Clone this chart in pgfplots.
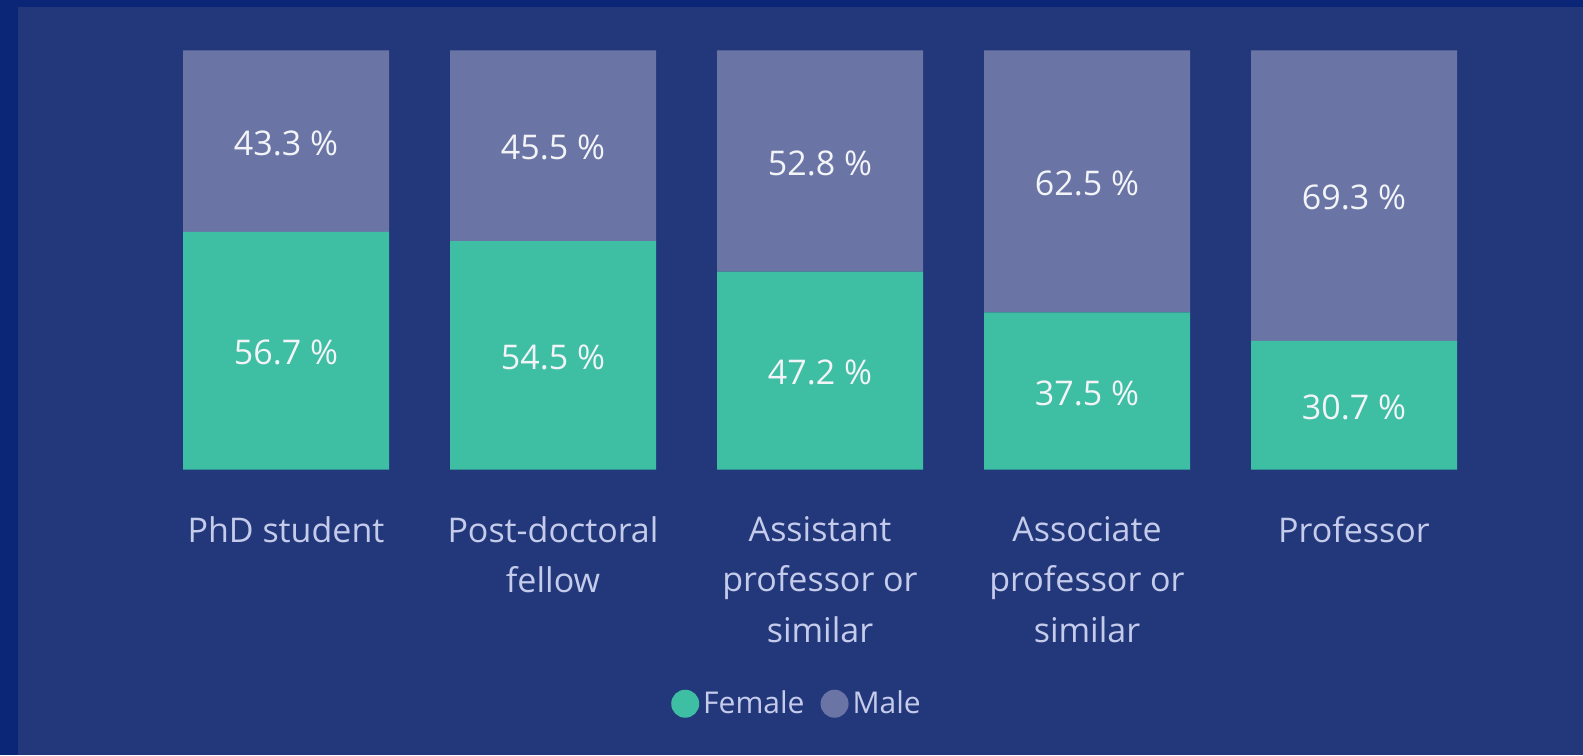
\documentclass[border=0pt]{standalone}
\usepackage{pgfplots}
\pgfplotsset{compat=1.18}
\usepackage{pgfplotstable}
\usepackage{fontspec}
\setmainfont{Open Sans}
\definecolor{outerbg}{HTML}{0B2577}
\definecolor{innerbg}{HTML}{23387B}
\definecolor{fem}{HTML}{3EBEA3}
\definecolor{mal}{HTML}{6A75A6}
\definecolor{lbl}{HTML}{C5CBEB}
\definecolor{val}{HTML}{F2F4F8}
\pgfplotstableread{
x f m
0 56.7 43.3
1 54.5 45.5
2 47.2 52.8
3 37.5 62.5
4 30.7 69.3
}\data
\begin{document}
\begin{tikzpicture}
\useasboundingbox (0,0) rectangle (791.5pt,377.5pt);
\fill[outerbg] (0,0) rectangle (791.5pt,377.5pt);
\fill[innerbg] (9pt,0) rectangle (791.5pt,374pt);
\begin{axis}[
  at={(76.25pt,142.75pt)}, anchor=south west,
  scale only axis, width=667.5pt, height=209.5pt,
  xmin=-0.5, xmax=4.5, ymin=0, ymax=100,
  ybar stacked, bar width=103pt,
  axis line style={draw=none}, tick style={draw=none},
  ytick=\empty,
  xtick=data,
  xticklabels={PhD student, Post-doctoral\\fellow, Assistant\\professor or\\similar, Associate\\professor or\\similar, Professor},
  xticklabel style={align=center, text=lbl, font=\fontsize{17}{25.2}\selectfont, yshift=-20pt},
  legend columns=2,
  legend style={draw=none, fill=none, at={(0.4835,-0.559)}, anchor=center,
    font=\fontsize{15}{18}\selectfont, text=lbl,
    /tikz/every even column/.append style={column sep=6pt}},
]
\addplot[fill=fem, draw=none, nodes near coords={\pgfmathprintnumber[fixed,precision=1,fixed zerofill,assume math mode=true]{\pgfplotspointmeta}~\%},
  point meta=explicit,
  every node near coord/.style={anchor=center, text=val, font=\fontsize{17}{20}\selectfont, yshift=-1pt},
  legend image code/.code={\fill[fem] (7pt,0pt) circle (7pt);}]
  table[x=x, y=f, meta=f]{\data};
\addlegendentry{Female}
\addplot[fill=mal, draw=none, nodes near coords={\pgfmathprintnumber[fixed,precision=1,fixed zerofill,assume math mode=true]{\pgfplotspointmeta}~\%},
  point meta=explicit,
  every node near coord/.style={anchor=center, text=val, font=\fontsize{17}{20}\selectfont, yshift=-1pt},
  legend image code/.code={\fill[mal] (7pt,0pt) circle (7pt);}]
  table[x=x, y=m, meta=m]{\data};
\addlegendentry{Male}
\end{axis}
\end{tikzpicture}
\end{document}
